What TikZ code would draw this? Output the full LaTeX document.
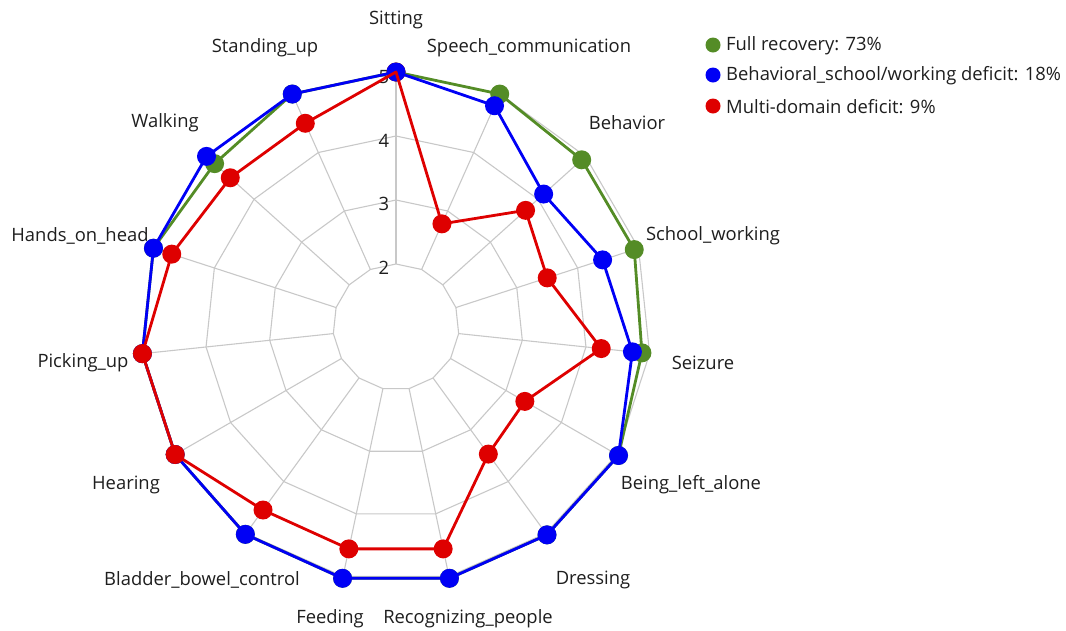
\documentclass[tikz,border=0pt]{standalone}
\usepackage{fontspec}
\setmainfont{Open Sans}
\definecolor{gcol}{RGB}{84,140,38}
\definecolor{bcol}{RGB}{0,0,245}
\definecolor{rcol}{RGB}{222,0,0}
\definecolor{gridc}{RGB}{200,200,200}
\definecolor{txt}{RGB}{30,30,30}
\begin{document}
\begin{tikzpicture}[x=1pt,y=1pt,
  every node/.style={text=txt,font=\fontsize{18.4}{22}\selectfont},
  gridline/.style={draw=gridc,line width=1.1pt},
  trace/.style={line width=2.8pt,line join=round},
  dot/.style={circle,inner sep=0pt,minimum size=19pt,draw=none},
  legdot/.style={circle,inner sep=0pt,minimum size=15pt,draw=none},
  axlabel/.style={inner sep=0pt},
  ticklabel/.style={inner sep=0pt}]
\useasboundingbox (0,0) rectangle (1066,-630);
\begin{scope}[shift={(396,-327)}]
  % grid polygons
  \foreach \lev in {2,3,4,5}{
    \draw[gridline] ({90}:{63+(\lev-2)*64}) \foreach \k in {1,...,14}{ -- ({90-24*\k}:{63+(\lev-2)*64})} -- cycle;
  }
  \foreach \k in {0,...,14}{
    \draw[gridline] ({90-24*\k}:63) -- ({90-24*\k}:255);
  }
  % tick labels
  \node[ticklabel] (t2) at (-12,59) {2};
  \node[ticklabel] (t3) at (-12,123) {3};
  \node[ticklabel] (t4) at (-12,186) {4};
  \node[ticklabel] (t5) at (-12,250) {5};
  % data coordinates
  \foreach \v [count=\i from 0] in {5,5,4.92,4.93,4.88,5.03,5.03,5.03,5.03,5.02,5,5,5,4.83,5}{
    \coordinate (g\i) at ({90-24*\i}:{63+(\v-2)*64});
  }
  \foreach \v [count=\i from 0] in {5,4.8,4.12,4.41,4.73,5.03,5.03,5.03,5.03,5.02,5,5,5,5,5}{
    \coordinate (b\i) at ({90-24*\i}:{63+(\v-2)*64});
  }
  \foreach \v [count=\i from 0] in {5,2.78,3.74,3.5,4.24,3.34,3.47,4.56,4.56,4.55,5,5,4.7,4.5,4.5}{
    \coordinate (r\i) at ({90-24*\i}:{63+(\v-2)*64});
  }
  % green trace
  \draw[trace,gcol] (g0) \foreach \k in {1,...,14}{ -- (g\k)} -- cycle;
  \foreach \k in {0,...,14}{ \node[dot,fill=gcol] (gm\k) at (g\k) {}; }
  % red marker at Sitting lies beneath the blue one
  \node[dot,fill=rcol] (rm0) at (r0) {};
  % blue trace
  \draw[trace,bcol] (b0) \foreach \k in {1,...,14}{ -- (b\k)} -- cycle;
  \foreach \k in {0,...,14}{ \node[dot,fill=bcol] (bm\k) at (b\k) {}; }
  % red trace
  \draw[trace,rcol] (r0) \foreach \k in {1,...,14}{ -- (r\k)} -- cycle;
  \foreach \k in {1,...,14}{ \node[dot,fill=rcol] (rm\k) at (r\k) {}; }
\end{scope}
% axis labels
\node[axlabel] (l0) at (396,-20) {Sitting};
\node[axlabel] (l1) at (529,-48) {Speech\_communication};
\node[axlabel] (l2) at (627,-123) {Behavior};
\node[axlabel] (l3) at (713,-236) {School\_working};
\node[axlabel] (l4) at (703,-363) {Seizure};
\node[axlabel] (l5) at (691,-485) {Being\_left\_alone};
\node[axlabel] (l6) at (593,-580) {Dressing};
\node[axlabel] (l7) at (468,-619) {Recognizing\_people};
\node[axlabel] (l8) at (330,-619) {Feeding};
\node[axlabel] (l9) at (202,-580) {Bladder\_bowel\_control};
\node[axlabel] (l10) at (126,-485) {Hearing};
\node[axlabel] (l11) at (83,-363) {Picking\_up};
\node[axlabel] (l12) at (80,-236) {Hands\_on\_head};
\node[axlabel] (l13) at (165,-123) {Walking};
\node[axlabel] (l14) at (265,-48) {Standing\_up};
% legend
\node[legdot,fill=gcol] (lg1) at (713,-45) {};
\node[legdot,fill=bcol] (lg2) at (713,-75) {};
\node[legdot,fill=rcol] (lg3) at (713,-106) {};
\node[anchor=west,inner sep=0pt] (lt1) at (726,-46) {Full recovery: 73\%};
\node[anchor=west,inner sep=0pt] (lt2) at (726,-76) {Behavioral\_school/working deficit: 18\%};
\node[anchor=west,inner sep=0pt] (lt3) at (726,-107) {Multi-domain deficit: 9\%};
\end{tikzpicture}
\end{document}
